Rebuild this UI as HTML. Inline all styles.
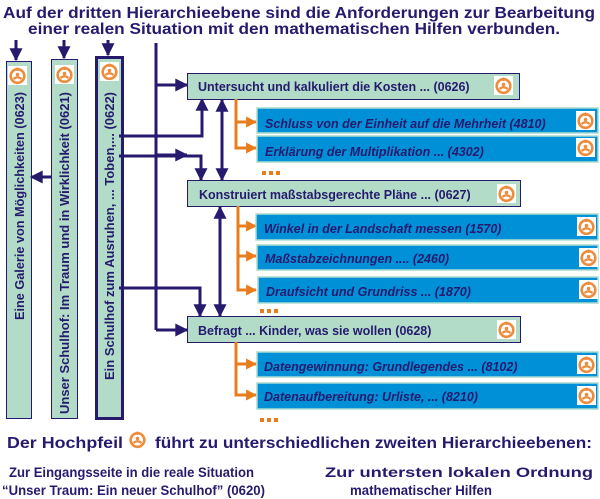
<!DOCTYPE html>
<html><head><meta charset="utf-8"><style>
html,body{margin:0;padding:0;background:#fff}
svg{display:block}
text{font-family:"Liberation Sans",sans-serif;font-weight:bold;fill:#261a6e}
.it{font-style:italic;font-size:12.5px}
.g{font-size:12.5px}
</style></head><body>
<svg width="600" height="499" viewBox="0 0 600 499" xmlns="http://www.w3.org/2000/svg">
<defs>
<g id="ic">
<rect x="0" y="0" width="19" height="19" fill="#fff"/>
<circle cx="9.5" cy="10" r="6.8" fill="none" stroke="#ec8c3c" stroke-width="2.6"/>
<rect x="8.7" y="1.5" width="1.6" height="3.5" fill="#ec8c3c"/>
<circle cx="9.5" cy="8.5" r="1.8" fill="#ec8c3c"/>
<path d="M5.5 13 Q9.5 9.5 13.5 13" fill="none" stroke="#ec8c3c" stroke-width="2.2"/>
</g>
<marker id="ab" viewBox="0 0 10 10" refX="9" refY="5" markerUnits="userSpaceOnUse" markerWidth="15" markerHeight="13" orient="auto-start-reverse"><path d="M0 0L10 5L0 10z" fill="#261a6e"/></marker>
<marker id="ao" viewBox="0 0 10 10" refX="9" refY="5" markerUnits="userSpaceOnUse" markerWidth="14" markerHeight="11" orient="auto"><path d="M0 0L10 5L0 10z" fill="#e87d1e"/></marker>
</defs>

<text x="3" y="18" font-size="16" textLength="592" lengthAdjust="spacingAndGlyphs">Auf der dritten Hierarchieebene sind die Anforderungen zur Bearbeitung</text>
<text x="28" y="34" font-size="16" textLength="532" lengthAdjust="spacingAndGlyphs">einer realen Situation mit den mathematischen Hilfen verbunden.</text>

<g stroke="#261a6e" stroke-width="3" fill="none" marker-end="url(#ab)">
<line x1="16" y1="40" x2="16" y2="60"/>
<line x1="64" y1="40" x2="64" y2="58"/>
<line x1="108" y1="40" x2="108" y2="55"/>
</g>

<rect x="6.5" y="61.5" width="25" height="357" fill="#b3dcc8" stroke="#261a6e" stroke-width="1"/>
<rect x="51.5" y="59.5" width="26" height="359" fill="#b3dcc8" stroke="#261a6e" stroke-width="1"/>
<rect x="96.5" y="57.5" width="26" height="361" fill="#b3dcc8" stroke="#261a6e" stroke-width="3"/>
<use href="#ic" x="8" y="66"/>
<use href="#ic" x="55" y="65"/>
<use href="#ic" x="100" y="62"/>
<text class="g" transform="translate(24,320) rotate(-90)" font-size="13" textLength="228" lengthAdjust="spacingAndGlyphs">Eine Galerie von Möglichkeiten (0623)</text>
<text class="g" transform="translate(69,414) rotate(-90)" font-size="13" textLength="322" lengthAdjust="spacingAndGlyphs">Unser Schulhof: Im Traum und in Wirklichkeit (0621)</text>
<text class="g" transform="translate(114,380) rotate(-90)" font-size="13" textLength="288" lengthAdjust="spacingAndGlyphs">Ein Schulhof zum Ausruhen, ... Toben,... (0622)</text>

<line x1="52" y1="177" x2="31" y2="177" stroke="#261a6e" stroke-width="3" marker-end="url(#ab)"/>

<g stroke="#261a6e" stroke-width="3" fill="none">
<line x1="156" y1="43" x2="156" y2="330"/>
<line x1="156" y1="85" x2="187" y2="85" marker-end="url(#ab)"/>
<line x1="156" y1="155" x2="187" y2="155" marker-end="url(#ab)"/>
<line x1="156" y1="330" x2="187" y2="330" marker-end="url(#ab)"/>
<polyline points="119,136 202,136 202,99" marker-end="url(#ab)"/>
<polyline points="119,156 201,156 201,180" marker-end="url(#ab)"/>
<line x1="222" y1="100" x2="222" y2="180" marker-start="url(#ab)" marker-end="url(#ab)"/>
<line x1="220" y1="207" x2="220" y2="316" marker-start="url(#ab)" marker-end="url(#ab)"/>
<polyline points="119,288 200,288 200,316" marker-end="url(#ab)"/>
</g>

<rect x="187.5" y="73.5" width="332" height="26" fill="#b3dcc8" stroke="#261a6e"/>
<text x="198" y="91" class="g">Untersucht und kalkuliert die Kosten ... (0626)</text>
<use href="#ic" x="494" y="76"/>
<rect x="187.5" y="180.5" width="333" height="26" fill="#b3dcc8" stroke="#261a6e"/>
<text x="199" y="199" class="g">Konstruiert maßstabsgerechte Pläne ... (0627)</text>
<use href="#ic" x="497" y="184"/>
<rect x="187.5" y="316.5" width="333" height="26" fill="#b3dcc8" stroke="#261a6e"/>
<text x="198" y="335" class="g">Befragt ... Kinder, was sie wollen (0628)</text>
<use href="#ic" x="497" y="320"/>

<g stroke="#e87d1e" stroke-width="3" fill="none">
<polyline points="236,99 236,148 256,148" marker-end="url(#ao)"/>
<line x1="236" y1="122" x2="256" y2="122" marker-end="url(#ao)"/>
<polyline points="238,206 238,290 256,290" marker-end="url(#ao)"/>
<line x1="238" y1="226" x2="256" y2="226" marker-end="url(#ao)"/>
<line x1="238" y1="256" x2="256" y2="256" marker-end="url(#ao)"/>
<polyline points="236,342 236,395 256,395" marker-end="url(#ao)"/>
<line x1="236" y1="364" x2="256" y2="364" marker-end="url(#ao)"/>
</g>
<g fill="#e87d1e">
<rect x="262" y="171" width="4" height="4"/><rect x="269" y="171" width="4" height="4"/><rect x="276" y="171" width="4" height="4"/>
<rect x="260" y="309" width="4" height="4"/><rect x="267" y="309" width="4" height="4"/><rect x="274" y="309" width="4" height="4"/>
<rect x="260" y="418" width="4" height="4"/><rect x="267" y="418" width="4" height="4"/><rect x="274" y="418" width="4" height="4"/>
</g>

<g fill="#0090d8" stroke="#a8dcd0" stroke-width="1.5">
<rect x="257" y="108" width="341" height="25"/>
<rect x="257" y="136" width="341" height="26"/>
<rect x="256" y="214" width="342" height="26"/>
<rect x="257" y="245" width="341" height="25"/>
<rect x="258" y="277" width="340" height="26"/>
<rect x="257" y="352" width="341" height="25"/>
<rect x="257" y="383" width="341" height="26"/>
</g>
<text x="265" y="128" class="it">Schluss von der Einheit auf die Mehrheit (4810)</text>
<text x="265" y="156" class="it">Erklärung der Multiplikation ... (4302)</text>
<text x="264" y="233" class="it">Winkel in der Landschaft messen (1570)</text>
<text x="265" y="263" class="it">Maßstabzeichnungen .... (2460)</text>
<text x="266" y="296" class="it">Draufsicht und Grundriss ... (1870)</text>
<text x="264" y="371" class="it">Datengewinnung: Grundlegendes ... (8102)</text>
<text x="264" y="401" class="it">Datenaufbereitung: Urliste, ... (8210)</text>
<use href="#ic" x="576" y="111"/>
<use href="#ic" x="576" y="138"/>
<use href="#ic" x="577" y="217"/>
<use href="#ic" x="579" y="248"/>
<use href="#ic" x="579" y="280"/>
<use href="#ic" x="577" y="355"/>
<use href="#ic" x="577" y="386"/>

<text x="7" y="448" font-size="16" textLength="116" lengthAdjust="spacingAndGlyphs">Der Hochpfeil</text>
<use href="#ic" x="128" y="430"/>
<text x="155" y="448" font-size="16" textLength="437" lengthAdjust="spacingAndGlyphs">führt zu unterschiedlichen zweiten Hierarchieebenen:</text>
<text x="9" y="477" font-size="14" textLength="245" lengthAdjust="spacingAndGlyphs">Zur Eingangsseite in die reale Situation</text>
<text x="2" y="495" font-size="14" textLength="263" lengthAdjust="spacingAndGlyphs">“Unser Traum: Ein neuer Schulhof” (0620)</text>
<text x="325" y="477" font-size="14" textLength="268" lengthAdjust="spacingAndGlyphs">Zur untersten lokalen Ordnung</text>
<text x="350" y="495" font-size="14" textLength="142" lengthAdjust="spacingAndGlyphs">mathematischer Hilfen</text>
</svg>
</body></html>
